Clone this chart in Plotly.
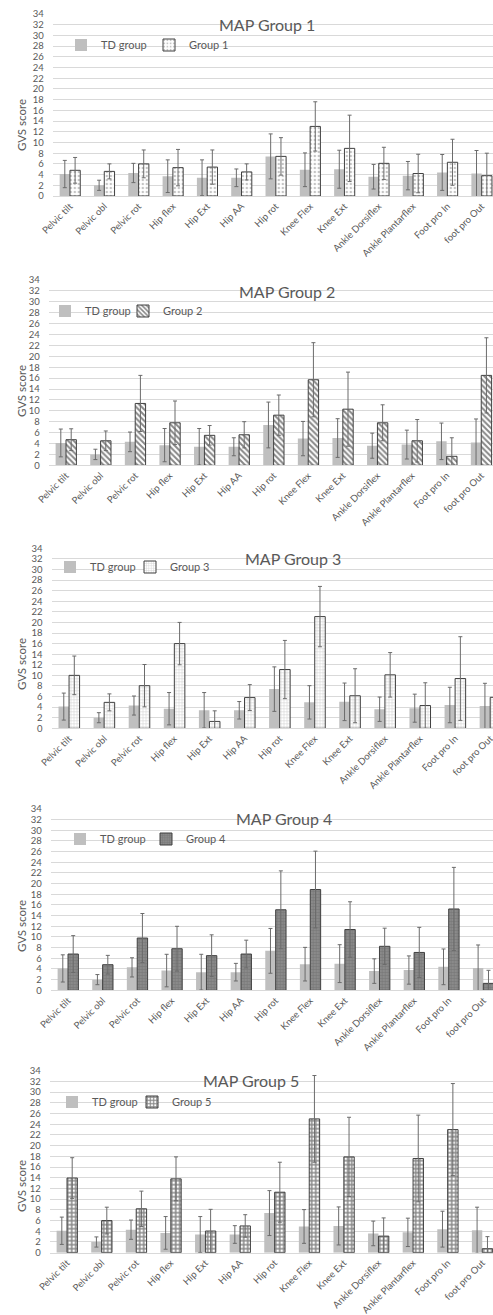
import plotly.graph_objects as go

categories = ["Pelvic tilt", "Pelvic obl", "Pelvic rot", "Hip flex", "Hip Ext", "Hip AA",
              "Hip rot", "Knee Flex", "Knee Ext", "Ankle Dorsiflex", "Ankle Plantarflex",
              "Foot pro In", "foot pro Out"]

td_mean = [4.1, 2.0, 4.3, 3.7, 3.4, 3.4, 7.4, 4.9, 5.0, 3.6, 3.8, 4.4, 4.2]
td_sd = [2.55, 0.95, 1.8, 3.05, 3.35, 1.65, 4.2, 3.15, 3.55, 2.3, 2.65, 3.35, 4.3]

g1_mean = [4.8, 4.6, 6.0, 5.3, 5.4, 4.5, 7.4, 13.0, 8.9, 6.1, 4.2, 6.3, 3.8]
g1_sd = [2.4, 1.4, 2.6, 3.4, 3.2, 1.5, 3.5, 4.6, 6.2, 3.0, 3.6, 4.3, 4.2]

g2_mean = [4.7, 4.5, 11.35, 7.8, 5.5, 5.6, 9.2, 15.7, 10.3, 7.8, 4.5, 1.65, 16.5]
g2_sd = [2.0, 1.8, 5.15, 4.0, 1.8, 2.4, 3.7, 6.8, 6.8, 3.3, 3.9, 3.4, 6.9]

g3_mean = [10.0, 4.9, 8.05, 16.0, 1.3, 5.8, 11.1, 21.1, 6.15, 10.1, 4.3, 9.4, 5.85]
g3_sd = [3.65, 1.6, 4.0, 4.0, 2.0, 2.45, 5.5, 5.7, 5.1, 4.2, 4.3, 7.9, 4.0]

g4_mean = [6.8, 4.8, 9.8, 7.8, 6.5, 6.8, 15.1, 18.9, 11.4, 8.25, 7.1, 15.25, 1.3]
g4_sd = [3.45, 1.75, 4.6, 4.2, 3.9, 2.6, 7.3, 7.2, 5.2, 3.4, 4.7, 7.8, 2.45]

g5_mean = [13.95, 6.0, 8.2, 13.8, 4.05, 5.0, 11.3, 25.0, 17.9, 3.1, 17.6, 23.0, 0.75]
g5_sd = [3.8, 2.5, 3.3, 4.1, 4.05, 2.1, 5.6, 8.1, 7.4, 3.4, 8.1, 8.6, 2.25]

group_names = ["Group 1", "Group 2", "Group 3", "Group 4", "Group 5"]
titles = ["MAP Group 1", "MAP Group 2", "MAP Group 3", "MAP Group 4", "MAP Group 5"]
group_means = [g1_mean, g2_mean, g3_mean, g4_mean, g5_mean]
group_sds = [g1_sd, g2_sd, g3_sd, g4_sd, g5_sd]

W, H = 493, 1315
FONT = "Lato"
TXT = "#595959"

# layout geometry (pixels from top-left of the page)
plot_left = [52.8, 48.7, 51.5, 50.7, 49.7]
x_max = [12.33, 12.34, 12.08, 12.28, 12.31]
y_top = [14, 280, 548.3, 809, 1070.7]
y_bot = [196, 465.3, 728.3, 990.3, 1252.7]
title_pos = [(267, 24), (287, 291), (293, 558), (284, 819), (251, 1080)]
ytitle_y = [125, 391, 664, 926, 1186]
legend_td_text_x = [98, 82, 87, 97, 89]
legend_g_text_x = [179, 153, 160, 176, 162]
legend_y = [45, 311, 567, 839, 1102]

patterns = [
    dict(color="white", pattern=dict(shape=".", fgcolor="#8a8a8a", bgcolor="white", size=4, solidity=0.3)),
    dict(color="white", pattern=dict(shape="\\", fgcolor="#111111", bgcolor="white", size=4, solidity=0.5)),
    dict(color="white", pattern=dict(shape="+", fgcolor="#a8a8a8", bgcolor="white", size=3, solidity=0.35)),
    dict(color="#7a7a7a", pattern=dict(shape="+", fgcolor="#5e5e5e", bgcolor="#8a8a8a", size=3, solidity=0.3)),
    dict(color="white", pattern=dict(shape="+", fgcolor="#111111", bgcolor="white", size=4, solidity=0.62)),
]

fig = go.Figure()
annotations = []
layout = {}
for i in range(5):
    n = "" if i == 0 else str(i + 1)
    xa, ya = "x" + n, "y" + n
    lg_td = "legend" + ("" if i == 0 else str(2 * i + 1))
    lg_g = "legend" + str(2 * i + 2)
    err = dict(type="data", visible=True, color="#6b6b6b", thickness=1, width=2)
    fig.add_trace(go.Bar(
        x=categories, y=td_mean, name="TD group", xaxis=xa, yaxis=ya, legend=lg_td,
        showlegend=True,
        marker=dict(color="#bfbfbf", line=dict(width=0)),
        error_y=dict(err, array=td_sd),
    ))
    p = patterns[i]
    fig.add_trace(go.Bar(
        x=categories, y=group_means[i], name=group_names[i], xaxis=xa, yaxis=ya, legend=lg_g,
        showlegend=True,
        marker=dict(color=p["color"], pattern=p["pattern"], line=dict(color="#404040", width=1)),
        error_y=dict(err, array=group_sds[i]),
    ))
    layout["xaxis" + n] = dict(
        domain=[plot_left[i] / W, 1], anchor=ya, type="category", automargin=False,
        range=[-0.5, x_max[i]], showgrid=False, zeroline=False,
        showline=True, linecolor="#d9d9d9", linewidth=1, ticks="",
        tickangle=-45, tickfont=dict(family=FONT, size=9.5, color=TXT),
    )
    layout["yaxis" + n] = dict(
        domain=[1 - y_bot[i] / H, 1 - y_top[i] / H], anchor=xa, automargin=False,
        range=[0, 34], dtick=2, tick0=0, showgrid=True, gridcolor="#d9d9d9",
        gridwidth=1, zeroline=False, showline=False, ticks="",
        ticklabelstandoff=8, tickfont=dict(family=FONT, size=9.5, color=TXT),
    )
    for lg, tx in ((lg_td, legend_td_text_x[i] + 3), (lg_g, legend_g_text_x[i] + 10)):
        layout[lg] = dict(
            orientation="h", x=(tx - 40) / W, y=1 - legend_y[i] / H,
            xanchor="left", yanchor="middle", bgcolor="rgba(0,0,0,0)",
            font=dict(family=FONT, size=11, color=TXT), itemwidth=30,
        )
    tx, ty = title_pos[i]
    annotations.append(dict(
        text=titles[i], x=tx / W, y=1 - ty / H, xref="paper", yref="paper",
        showarrow=False, xanchor="center", yanchor="middle",
        font=dict(family=FONT, size=16, color=TXT),
    ))
    annotations.append(dict(
        text="GVS score", x=21 / W, y=1 - ytitle_y[i] / H, xref="paper", yref="paper",
        showarrow=False, xanchor="center", yanchor="middle", textangle=-90,
        font=dict(family=FONT, size=11.5, color=TXT),
    ))

fig.update_layout(
    width=W, height=H, margin=dict(l=0, r=0, t=0, b=0, pad=0, autoexpand=False),
    paper_bgcolor="white", plot_bgcolor="white", showlegend=True,
    barmode="group", bargap=0.4, bargroupgap=0,
    annotations=annotations, **layout,
)

fig.write_html(
    "out.html",
    config={"displayModeBar": False},
    post_script="document.body.style.margin='0px';document.body.style.overflow='hidden';",
)
